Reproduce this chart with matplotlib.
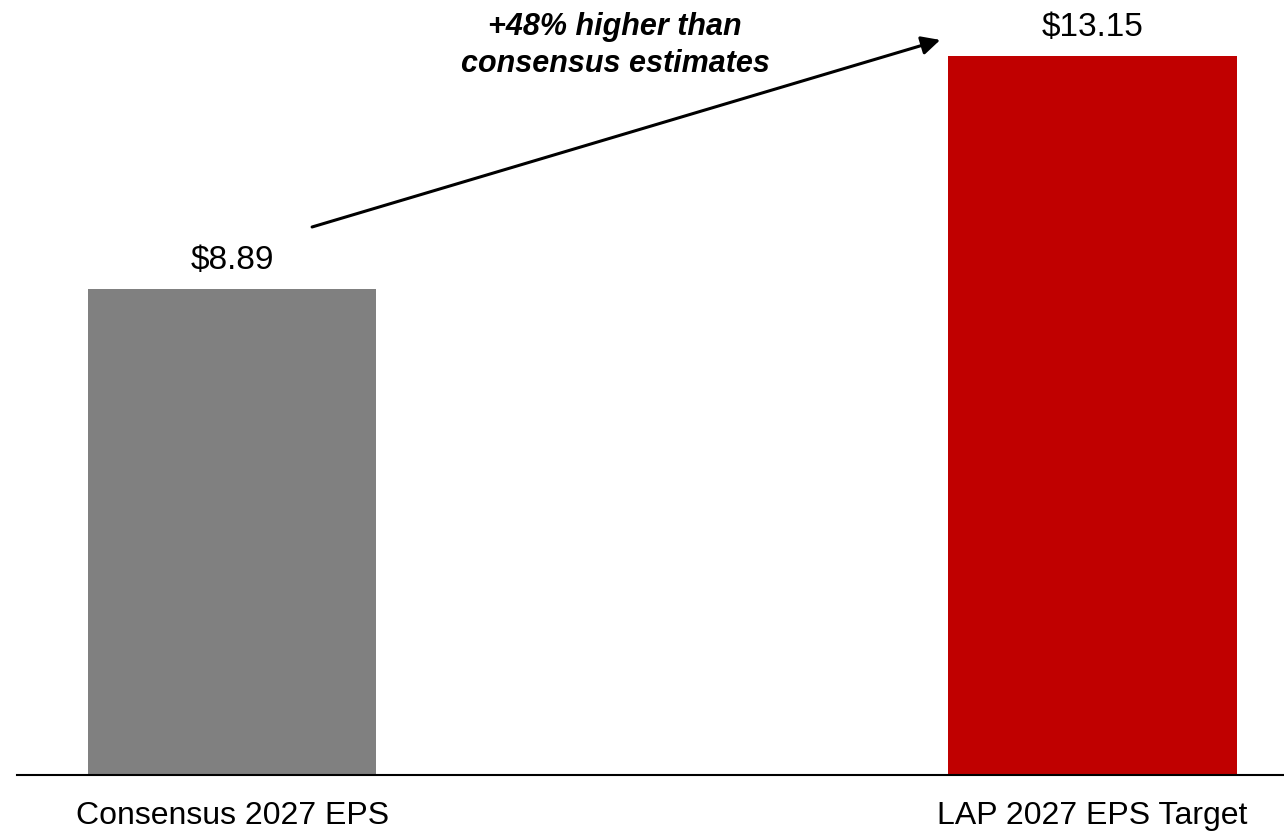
import matplotlib
matplotlib.use('Agg')
import matplotlib.pyplot as plt

plt.rcParams['font.family'] = ['Liberation Sans', 'DejaVu Sans']

categories = ['Consensus 2027 EPS', 'LAP 2027 EPS Target']
eps = [8.89, 13.15]
value_labels = ['$8.89', '$13.15']
bar_colors = ['#808080', '#C00000']
note = '+48% higher than\nconsensus estimates'

fig = plt.figure(figsize=(12.84, 8.34), dpi=100)
ax = fig.add_axes([0.0132, 0.0707, 0.9868, 0.9293])

xpos = range(len(categories))
bars = ax.bar(xpos, eps, width=0.335, color=bar_colors)

for b, lab in zip(bars, value_labels):
    ax.annotate(lab, (b.get_x() + b.get_width() / 2, b.get_height()),
                xytext=(0, 9), textcoords='offset points',
                ha='center', va='bottom', fontsize=24)

ax.set_xlim(-0.25, 1.2225)
ax.set_ylim(0, 14.17)
ax.set_xticks(list(xpos))
ax.set_xticklabels(categories, fontsize=23)
ax.tick_params(axis='x', length=0, pad=19)
ax.set_yticks([])
for s in ['top', 'right', 'left']:
    ax.spines[s].set_visible(False)
ax.spines['bottom'].set_linewidth(1.5)

# arrow from consensus bar up to the target bar
ax.annotate('', xy=(0.823, 13.44), xytext=(0.093, 10.02),
            arrowprops=dict(arrowstyle='-|>', color='black', lw=2.2,
                            mutation_scale=28, shrinkA=0, shrinkB=0))
ax.text(0.445, 13.33, note, ha='center', va='center', fontsize=22,
        fontweight='bold', fontstyle='italic', linespacing=1.3)

fig.savefig('out.png', dpi=100)
